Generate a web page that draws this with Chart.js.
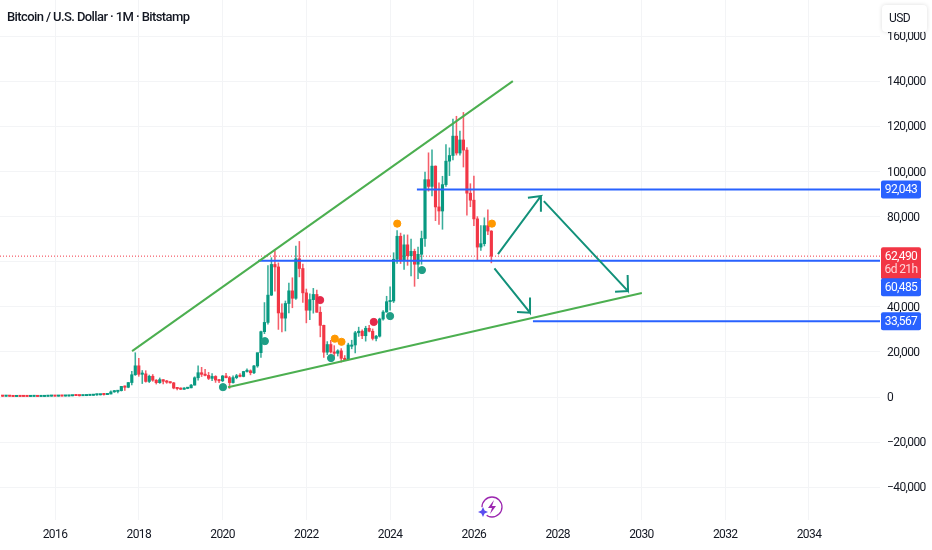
<!DOCTYPE html>
<html>
<head>
<meta charset="utf-8">
<style>html,body{margin:0;padding:0;background:#fff;overflow:hidden}#wrap{position:relative;width:932px;height:550px}</style>
<script src="https://cdn.jsdelivr.net/npm/chart.js@4"></script>
</head>
<body>
<div id="wrap"><canvas id="c" width="932" height="550"></canvas></div>
<script>
const titleText = "Bitcoin / U.S. Dollar · 1M · Bitstamp";
const currencyText = "USD";
const countdownText = "6d 21h";
const xTickValues = [2016,2018,2020,2022,2024,2026,2028,2030,2032,2034];
const yTickValues = [-40000,-20000,0,20000,40000,60000,80000,100000,120000,140000,160000];
const firstCandleYear = 2014.75;
const open = [.387,.338,.378,.320,.217,.254,.244,.236,.230,.263,.284,.230,.236,.314,.377,
.430,.368,.437,.416,.448,.531,.670,.624,.575,.609,.700,.745,
.965,.97,1.19,1.08,1.35,2.30,2.48,2.87,4.73,4.34,6.44,9.9,
13.86,10.1,10.3,6.93,9.24,7.49,6.39,7.73,7.0,6.6,6.3,4.0,
3.74,3.44,3.82,4.1,5.3,8.57,10.8,10.08,9.6,8.3,9.15,7.55,
7.2,9.35,8.6,6.42,8.63,9.45,9.14,11.33,11.65,10.78,13.8,19.7,
29.0,33.1,45.2,58.8,57.7,37.3,35.0,41.5,47.1,43.8,61.3,57.0,
46.2,38.5,43.2,45.5,37.6,31.8,19.9,23.3,20.0,19.4,20.5,17.2,
16.6,23.1,23.1,28.5,29.2,27.2,30.5,29.2,26.0,27.0,34.6,37.7,
42.3,42.6,61.1,71.3,60.6,67.5,62.7,64.6,58.9,63.3,70.3,96.4,
93.4,102.4,84.3,82.5,94.2,104.6,107.1,115.7,108.2,114.0,109.5,90.4,
87.3,79.0,66.5,68.0,76.0,73.6];
const high = [.415,.457,.382,.320,.265,.300,.261,.247,.268,.316,.285,.243,.333,.502,.467,
.462,.448,.439,.468,.554,.775,.704,.626,.635,.733,.757,.980,
1.15,1.2,1.35,1.35,2.77,2.98,2.9,4.74,5.0,6.47,11.4,19.67,
17.18,11.78,11.7,9.75,10.0,7.76,8.49,7.75,7.4,6.8,6.55,4.2,
4.1,4.2,4.1,5.6,9.0,13.88,13.2,12.3,10.95,10.4,9.5,7.75,
9.6,10.5,9.2,9.45,10.07,10.4,11.45,12.47,12.07,14.1,19.5,29.3,
41.9,58.3,61.8,64.9,59.5,41.3,42.6,50.5,52.9,67.0,69.0,59.0,
47.9,45.8,48.2,47.4,40.0,31.9,24.6,25.2,22.8,21.0,21.5,18.4,
23.9,25.2,29.2,31.0,29.8,31.4,31.8,30.2,27.4,35.0,38.4,44.7,
48.9,64.0,73.8,72.7,71.9,71.9,70.0,65.6,66.5,73.6,99.8,108.3,
109.6,102.5,95.0,97.9,111.9,110.5,123.2,124.5,117.9,126.2,110.6,94.6,
98.0,80.0,76.0,79.5,83.0,73.8];
const low = [.275,.319,.300,.152,.212,.235,.214,.228,.220,.254,.198,.224,.236,.304,.350,
.354,.367,.394,.415,.436,.531,.605,.465,.570,.604,.685,.735,
.75,.92,.89,1.08,1.35,2.08,1.83,2.67,2.95,4.12,5.38,9.6,
9.2,6.0,6.6,6.43,7.0,5.78,6.07,5.88,6.1,6.2,3.65,3.13,
3.35,3.38,3.7,4.1,5.3,7.45,9.1,9.35,7.75,7.3,6.5,6.4,
6.85,8.45,3.85,6.15,8.1,8.9,8.95,11.0,9.85,10.4,13.2,17.6,
28.1,32.3,45.0,47.0,30.0,28.9,29.3,37.3,39.6,43.3,53.3,42.0,
32.9,34.3,37.2,37.7,26.7,17.6,18.8,19.5,18.1,18.2,15.5,16.3,
16.5,21.4,19.6,26.9,25.9,24.8,28.9,25.3,24.9,26.6,34.1,37.6,
38.5,41.9,59.3,59.2,56.6,58.4,53.7,49.1,52.5,58.9,66.8,91.3,
89.2,78.2,76.6,74.4,93.4,98.2,105.1,107.3,107.3,102.0,80.6,84.4,
76.0,60.7,65.0,67.0,72.0,59.5];
const close = [.338,.378,.320,.217,.254,.244,.236,.230,.263,.284,.230,.236,.314,.377,.430,
.368,.437,.416,.448,.531,.670,.624,.575,.609,.700,.745,.965,
.97,1.19,1.08,1.35,2.30,2.48,2.87,4.73,4.34,6.44,9.9,13.86,
10.1,10.3,6.93,9.24,7.49,6.39,7.73,7.0,6.6,6.3,4.0,3.74,
3.44,3.82,4.1,5.3,8.57,10.8,10.08,9.6,8.3,9.15,7.55,7.2,
9.35,8.6,6.42,8.63,9.45,9.14,11.33,11.65,10.78,13.8,19.7,29.0,
33.1,45.2,58.8,57.7,37.3,35.0,41.5,47.1,43.8,61.3,57.0,46.2,
38.5,43.2,45.5,37.6,31.8,19.9,23.3,20.0,19.4,20.5,17.2,16.6,
23.1,23.1,28.5,29.2,27.2,30.5,29.2,26.0,27.0,34.6,37.7,42.3,
42.6,61.1,71.3,60.6,67.5,62.7,64.6,58.9,63.3,70.3,96.4,93.4,
102.4,84.3,82.5,94.2,104.6,107.1,115.7,108.2,114.0,109.5,90.4,87.3,
79.0,66.5,68.0,76.0,73.6,62.49];
const lastPrice = 62490;
const levelA = 92043, levelB = 60485, levelC = 33567;
const levelAStart = 2024.64, levelBStart = 2020.85, levelCStart = 2027.41;
const upperTrendX = [2017.84, 2026.93];
const upperTrendY = [20400, 140100];
const lowerTrendX = [2020.13, 2030.01];
const lowerTrendY = [4400, 46100];
const arrowUpX = [2026.575, 2027.60, 2027.29, 2027.60, 2027.60];
const arrowUpY = [63400, 89100, 88400, 89100, 82200];
const arrowDownX = [2027.67, 2029.68, 2029.67, 2029.68, 2029.37];
const arrowDownY = [86900, 47000, 54100, 47000, 46700];
const arrowShortX = [2026.49, 2027.34, 2027.34, 2027.34, 2027.03];
const arrowShortY = [57100, 37400, 44200, 37400, 37700];
const tealDotX = [2020.01, 2021.01, 2022.59, 2024.0, 2024.76];
const tealDotY = [4400, 24800, 17300, 35900, 56300];
const redDotX = [2022.33, 2023.61];
const redDotY = [43000, 33300];
const orangeDotX = [2022.68, 2022.84, 2024.17, 2026.43];
const orangeDotY = [25900, 24500, 76900, 76900];

const UP = "#089981", DOWN = "#f23645", BLUE = "#2962ff";
const WICK_UP = "#089981cc", WICK_DOWN = "#f23645cc";
const TICK_FONT = '"Roboto",sans-serif';
const TIGHT = "-0.6px";
const xMin = 2014.687, xMax = 2035.695, yMin = -54500, yMax = 176050;

const pts = (xs, ys) => xs.map((x, i) => ({x, y: ys[i]}));
const candleX = open.map((_, i) => firstCandleYear + i / 12);
const k = v => v * 1000;
const colors = open.map((o, i) => close[i] >= o ? UP : DOWN);
const wickColors = open.map((o, i) => close[i] >= o ? WICK_UP : WICK_DOWN);
const lineDs = (data, color, width, order, extra) => Object.assign({
  type: "line", data, borderColor: color, borderWidth: width, pointRadius: 0,
  fill: false, tension: 0, order, borderCapStyle: "butt", borderJoinStyle: "miter"
}, extra || {});
const dotDs = (xs, ys, color) => ({
  type: "line", data: pts(xs, ys), showLine: false, pointRadius: 3.6,
  pointBackgroundColor: color, pointBorderColor: color, pointBorderWidth: 1, order: 1
});

const overlay = {
  id: "overlay",
  beforeDraw(chart) { chart.ctx.letterSpacing = TIGHT; },
  afterDraw(chart) {
    const c = chart.ctx, ys = chart.scales.y, left = chart.chartArea.right + 1;
    const tag = (top, h, fill) => {
      c.fillStyle = fill; c.beginPath(); c.roundRect(left, top, 40, h, 2); c.fill();
    };
    const label = (t, y, col) => {
      c.fillStyle = col; c.font = '12px ' + TICK_FONT; c.textAlign = "center"; c.textBaseline = "middle";
      c.fillText(t, left + 20, y);
    };
    const fmt = v => v.toLocaleString("en-US");
    const ya = ys.getPixelForValue(levelA), yc = ys.getPixelForValue(levelC), yp = ys.getPixelForValue(lastPrice);
    tag(ya - 9, 18, BLUE); label(fmt(levelA), ya + 0.5, "#fff");
    tag(yc - 9, 18, BLUE); label(fmt(levelC), yc + 0.5, "#fff");
    tag(yp - 9, 32, DOWN); label(fmt(lastPrice), yp + 0.5, "#fff"); label(countdownText, yp + 14, "#ffd5d9");
    tag(yp + 22, 18, BLUE); label(fmt(levelB), yp + 31.5, "#fff");

    // currency button
    c.save(); c.shadowColor = "rgba(0,0,0,.14)"; c.shadowBlur = 4; c.fillStyle = "#fff";
    c.beginPath(); c.roundRect(882, 5, 45, 27, 4); c.fill(); c.restore();
    c.fillStyle = "#131722"; c.font = '12px ' + TICK_FONT; c.textAlign = "left"; c.textBaseline = "middle";
    c.fillText(currencyText, 889, 19);

    // title
    c.font = '500 13px "Roboto",sans-serif'; c.fillStyle = "#131722"; c.fillText(titleText, 7, 17.5);

    // bolt badge
    c.strokeStyle = "#9c27b0"; c.lineWidth = 1.3; c.beginPath(); c.arc(492, 507, 10, 0, Math.PI * 2); c.stroke();
    c.fillStyle = "#fff"; c.beginPath(); c.arc(483, 512, 5, 0, Math.PI * 2); c.fill();
    c.fillStyle = "#9c27b0"; c.beginPath();
    ["M494 500","L488 508","L492 508","L490 514","L496 506","L492 506"].forEach((s,i)=>{const [x,y]=s.slice(1).split(" ").map(Number); i?c.lineTo(x,y):c.moveTo(x,y);});
    c.closePath(); c.fill();
    c.fillStyle = "#5b4df0"; c.beginPath();
    c.moveTo(483,507); c.lineTo(484.6,510.4); c.lineTo(488,512); c.lineTo(484.6,513.6); c.lineTo(483,517); c.lineTo(481.4,513.6); c.lineTo(478,512); c.lineTo(481.4,510.4);
    c.closePath(); c.fill();
  }
};

new Chart(document.getElementById("c"), {
  type: "bar",
  plugins: [overlay],
  data: {
    datasets: [
      {type:"bar", data: candleX.map((x,i)=>({x, y:[k(low[i]),k(high[i])]})), backgroundColor: wickColors, barThickness: 0.9, grouped:false, order: 6},
      {type:"bar", data: candleX.map((x,i)=>({x, y:[k(open[i]),k(close[i])]})), backgroundColor: colors, barThickness: 2.5, minBarLength: 1.3, grouped:false, order: 5},
      lineDs([{x:xMin,y:lastPrice},{x:xMax,y:lastPrice}], DOWN, 1, 7, {borderDash:[1,2]}),
      lineDs([{x:levelAStart,y:levelA},{x:xMax,y:levelA}], BLUE, 2, 3),
      lineDs([{x:levelBStart,y:levelB},{x:xMax,y:levelB}], BLUE, 2, 3),
      lineDs([{x:levelCStart,y:levelC},{x:xMax,y:levelC}], BLUE, 2, 3),
      lineDs(pts(upperTrendX, upperTrendY), "#4caf50", 2, 2),
      lineDs(pts(lowerTrendX, lowerTrendY), "#4caf50", 2, 2),
      lineDs(pts(arrowUpX, arrowUpY), "#12917a", 2, 2),
      lineDs(pts(arrowDownX, arrowDownY), "#12917a", 2, 2),
      lineDs(pts(arrowShortX, arrowShortY), "#12917a", 2, 2),
      dotDs(tealDotX, tealDotY, "#1f9e86"),
      dotDs(redDotX, redDotY, "#e5294a"),
      dotDs(orangeDotX, orangeDotY, "#ff9800")
    ]
  },
  options: {
    responsive: false, animation: false, devicePixelRatio: 1,
    layout: {padding: 0, autoPadding: false},
    plugins: {legend: {display:false}, tooltip: {enabled:false}, title:{display:false}},
    scales: {
      x: {
        type: "linear", min: xMin, max: xMax, offset: false,
        grid: {color:"#f3f4f6", lineWidth:1, drawTicks:false, offset:false},
        border: {display:false},
        ticks: {autoSkip:false, maxRotation:0, padding:8,
          color:"#131722", font:{family:TICK_FONT,size:12},
          callback: v => String(v)},
        afterBuildTicks(s){ s.ticks = xTickValues.map(value => ({value})); },
        afterFit(s){ s.height = 30; s.paddingLeft = 0; s.paddingRight = 0; }
      },
      y: {
        type: "linear", position: "right", min: yMin, max: yMax,
        grid: {color:"#f3f4f6", lineWidth:1, drawTicks:false},
        border: {display:false},
        ticks: {autoSkip:false, padding:7, labelOffset:1,
          color:"#131722", font:{family:TICK_FONT,size:12},
          callback: v => (v < 0 ? "\u2212" : "") + Math.abs(v).toLocaleString("en-US")},
        afterBuildTicks(s){ s.ticks = yTickValues.map(value => ({value})); },
        afterFit(s){ s.width = 52; s.paddingTop = 0; s.paddingBottom = 0; }
      }
    }
  }
});
</script>
</body>
</html>
